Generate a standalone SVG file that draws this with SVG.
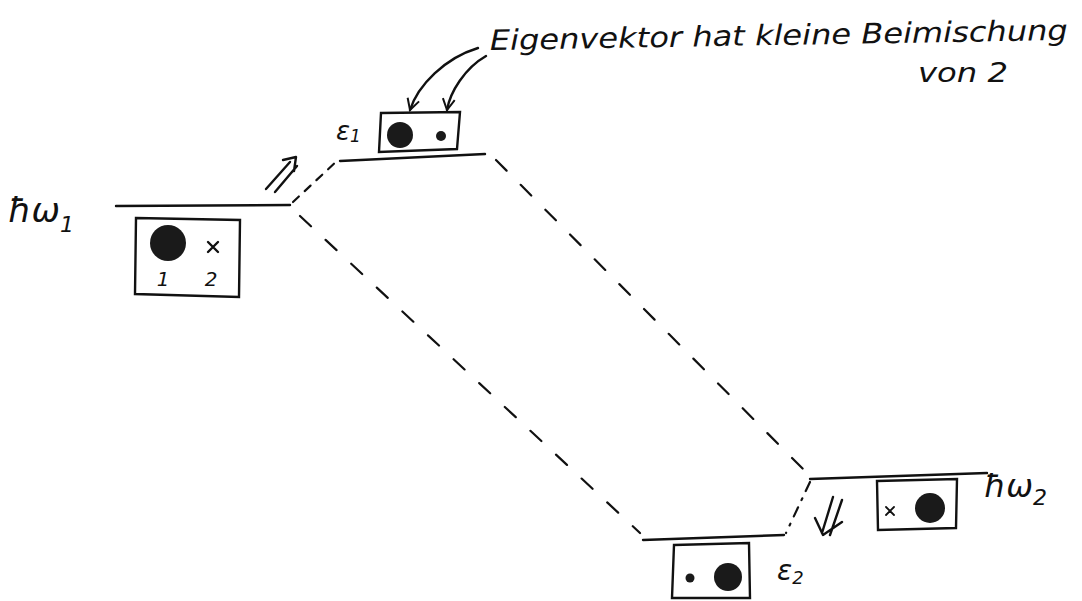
<svg xmlns="http://www.w3.org/2000/svg" width="1082" height="601" viewBox="0 0 1082 601">
<style>
  .ln{stroke:#111;stroke-width:2.4;fill:none;stroke-linecap:round;stroke-linejoin:round}
  .box{stroke:#111;stroke-width:2.4;fill:#fff}
  .dash{stroke:#111;stroke-width:2.2;fill:none;stroke-dasharray:15 20;stroke-linecap:round}
  .dash2{stroke:#111;stroke-width:2.2;fill:none;stroke-dasharray:10 8 2 8;stroke-linecap:round}
  .big{fill:#1a1a1a}
  .t{font-family:"DejaVu Sans","Liberation Sans",sans-serif;fill:#111;font-style:italic}
</style>
<defs>
  <marker id="vhead" markerWidth="14" markerHeight="14" refX="12" refY="7" orient="auto" markerUnits="userSpaceOnUse">
    <path d="M1,1 L12,7 L1,13" fill="none" stroke="#111" stroke-width="2"/>
  </marker>
</defs>
<rect width="1082" height="601" fill="#fff"/>

<g id="connectors">
  <path class="dash" d="M293,202 L338,160" style="stroke-dasharray:8 8"/>
  <path class="dash" d="M300,216 L640,533"/>
  <path class="dash" d="M496,160 L808,474"/>
  <path class="dash2" d="M810,482 L786,533"/>
  <path class="ln" d="M478,48 C445,58 418,85 410,110" marker-end="url(#vhead)"/>
  <path class="ln" d="M486,56 C465,68 450,92 447,110" marker-end="url(#vhead)"/>
</g>

<g id="level-hw1">
  <line class="ln" x1="116" y1="206" x2="290" y2="205"/>
  <text class="t" x="8" y="222" font-size="34">ħω<tspan font-size="22" dy="10">1</tspan></text>
  <path class="ln" d="M266,189 L290,162 M275,192 L297,166 M283,160 L296,157 L294,171"/>
</g>
<g id="box-hw1">
  <path class="box" d="M136,218 L240,220 L239,297 L135,294 Z"/>
  <circle class="big" cx="168" cy="243" r="18"/>
  <path class="ln" d="M208,242 L218,252 M218,242 L208,252"/>
  <text class="t" x="163" y="286" font-size="20" text-anchor="middle">1</text>
  <text class="t" x="211" y="286" font-size="20" text-anchor="middle">2</text>
</g>

<g id="level-e1">
  <line class="ln" x1="340" y1="161" x2="485" y2="154"/>
  <text class="t" x="336" y="140" font-size="26">ε<tspan font-size="17" dy="2">1</tspan></text>
</g>
<g id="box-e1">
  <path class="box" d="M381,113 L460,112 L457,149 L379,152 Z"/>
  <circle class="big" cx="400" cy="135" r="13"/>
  <circle class="big" cx="441" cy="136" r="5"/>
</g>

<g id="annotation">
  <text class="t" x="490" y="50" font-size="28" textLength="578" lengthAdjust="spacingAndGlyphs" transform="rotate(-1 490 50)">Eigenvektor hat kleine Beimischung</text>
  <text class="t" x="918" y="82" font-size="26" textLength="90" lengthAdjust="spacingAndGlyphs">von 2</text>
</g>

<g id="level-e2">
  <line class="ln" x1="643" y1="540" x2="784" y2="535"/>
  <text class="t" x="777" y="580" font-size="28">ε<tspan font-size="18" dy="4">2</tspan></text>
</g>
<g id="box-e2">
  <path class="box" d="M674,545 L749,543 L750,598 L672,598 Z"/>
  <circle class="big" cx="690" cy="578" r="4.5"/>
  <circle class="big" cx="728" cy="577" r="14"/>
</g>

<g id="level-hw2">
  <line class="ln" x1="810" y1="479" x2="987" y2="473"/>
  <text class="t" x="984" y="497" font-size="32">ħω<tspan font-size="22" dy="8">2</tspan></text>
  <path class="ln" d="M833,497 L822,533 M842,500 L830,535 M815,518 L823,535 L842,522"/>
</g>
<g id="box-hw2">
  <path class="box" d="M877,481 L957,479 L956,528 L878,530 Z"/>
  <path class="ln" d="M886,507 L894,515 M894,507 L886,515" style="stroke-width:1.8"/>
  <circle class="big" cx="930" cy="508" r="15"/>
</g>
</svg>
